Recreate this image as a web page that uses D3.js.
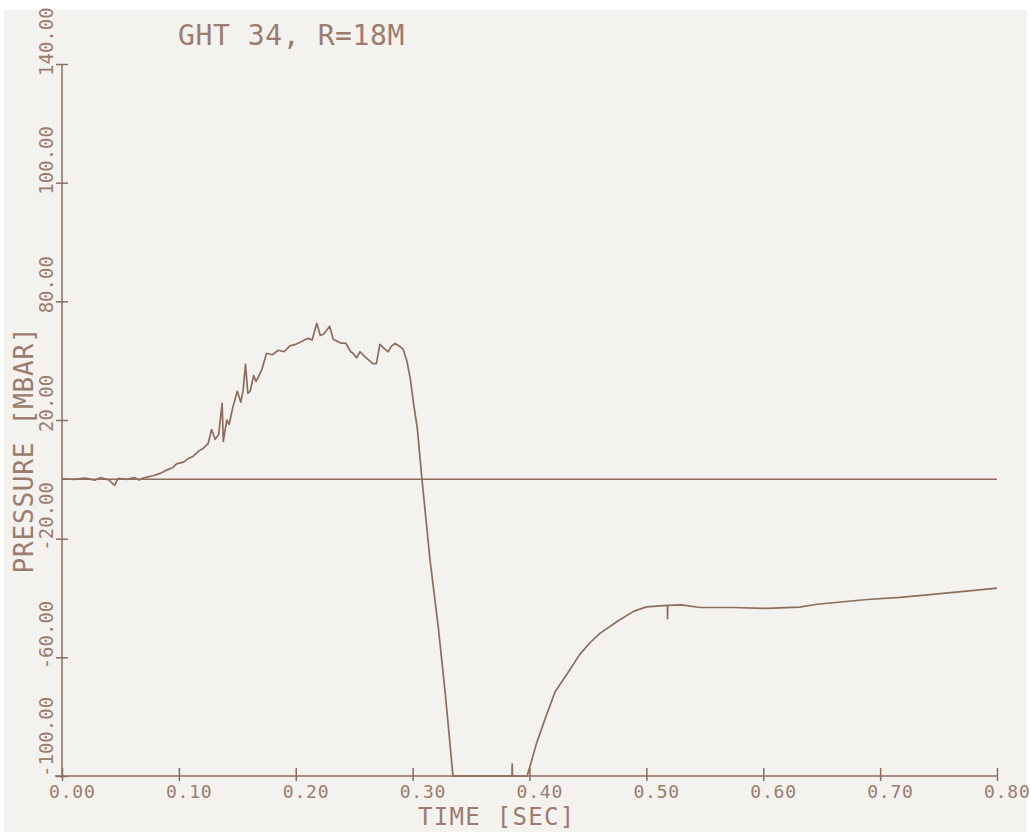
<!DOCTYPE html>
<html lang="en">
	<head>
		<meta charset="utf-8">
		<title>GHT 34, R=18M</title>
		<script type="text/javascript" src="https://cdn.jsdelivr.net/npm/d3@7"></script>
		<style type="text/css">
			body { margin: 0; background: #ffffff; }
			svg text { font-family: "DejaVu Sans Mono", "Liberation Mono", monospace; fill: #9b7c6f; }
		</style>
	</head>
	<body>
		<script type="text/javascript">
			//Width and height
			var w = 1031;
			var h = 836;

			// data
			var times = [0.000, 0.010, 0.020, 0.028, 0.033, 0.040, 0.045, 0.048, 0.055, 0.062,
						0.066, 0.070, 0.078, 0.084, 0.090, 0.095, 0.098, 0.104, 0.108, 0.112,
						0.117, 0.121, 0.125, 0.128, 0.131, 0.134, 0.137, 0.138, 0.141, 0.143,
						0.146, 0.150, 0.153, 0.155, 0.157, 0.159, 0.161, 0.164, 0.166, 0.168,
						0.171, 0.175, 0.180, 0.185, 0.190, 0.195, 0.200, 0.205, 0.210, 0.214,
						0.218, 0.221, 0.224, 0.229, 0.232, 0.238, 0.243, 0.247, 0.249, 0.252,
						0.255, 0.260, 0.266, 0.269, 0.272, 0.276, 0.279, 0.282, 0.285, 0.290,
						0.292, 0.295, 0.298, 0.301, 0.304, 0.308, 0.315, 0.322, 0.328, 0.3345,
						0.385, 0.3852, 0.3855, 0.398, 0.406, 0.414, 0.422, 0.432, 0.443, 0.452,
						0.460, 0.475, 0.489, 0.500, 0.518, 0.5181, 0.5183, 0.530, 0.546, 0.574,
						0.603, 0.631, 0.646, 0.689, 0.717, 0.745, 0.774, 0.800];
			var pressure = [0.2, 0.0, 0.4, -0.3, 0.6, -0.2, -2.0, 0.3, 0.0, 0.6,
						-0.2, 0.5, 1.2, 2.0, 3.2, 4.0, 5.2, 5.8, 7.0, 7.7,
						9.5, 10.5, 12.0, 16.8, 13.5, 15.0, 25.6, 12.8, 20.0, 18.5,
						24.0, 29.7, 26.0, 30.0, 38.8, 29.0, 29.7, 35.0, 33.0, 34.5,
						37.0, 42.5, 42.0, 43.5, 43.0, 45.0, 45.5, 46.5, 47.5, 47.0,
						52.6, 48.5, 49.0, 51.6, 47.2, 46.0, 45.8, 43.0, 42.5, 41.0,
						43.0, 41.0, 39.0, 39.0, 45.5, 44.0, 43.0, 45.0, 45.8, 44.5,
						43.8, 40.0, 34.0, 25.0, 17.2, 0.0, -27.6, -50.0, -72.5, -100,
						-100, -96, -100, -100, -89, -80, -71.5, -65.7, -59, -55,
						-52, -47.9, -44.5, -43.0, -42.5, -47, -42.5, -42.3, -43.2, -43.2,
						-43.5, -43.1, -42.1, -40.5, -39.8, -38.8, -37.7, -36.7];

			var xTicks = [0, 0.1, 0.2, 0.3, 0.4, 0.5, 0.6, 0.7, 0.8];
			var xTickLabels = ["0.00", "0.10", "0.20", "0.30", "0.40", "0.50", "0.60", "0.70", "0.80"];
			var yTicks = [-100, -60, -20, 20, 60, 100, 140];
			var yTickLabels = ["-100.00", "-60.00", "-20.00", "20.00", "80.00", "100.00", "140.00"];

			var ink = "#8e6c5e";

			var xScale = d3.scaleLinear()
							.domain([0, 0.8])
							.range([62, 997]);
			var yScale = d3.scaleLinear()
							.domain([-100, 140])
							.range([776, 64]);

			//Create SVG element
			var svg = d3.select("body")
						.append("svg")
						.attr("width", w)
						.attr("height", h);

			// paper
			svg.append("rect")
				.attr("x", 4)
				.attr("y", 10)
				.attr("width", 1023)
				.attr("height", 822)
				.attr("fill", "#f3f2ee");

			// x axis (ticks cross the line)
			var xAxis = svg.append("g")
				.attr("transform", "translate(0," + yScale(-100) + ")")
				.call(d3.axisBottom(xScale).tickValues(xTicks).tickSizeOuter(0).tickFormat(""));
			xAxis.select(".domain").attr("d", "M55,0H" + xScale(0.8)).attr("stroke", ink).attr("stroke-width", 1.5);
			xAxis.selectAll(".tick line").attr("y1", -8).attr("y2", 5).attr("stroke", ink).attr("stroke-width", 1.5);

			// y axis
			var yAxis = svg.append("g")
				.attr("transform", "translate(" + xScale(0) + ",0)")
				.call(d3.axisLeft(yScale).tickValues(yTicks).tickSizeOuter(0).tickFormat(""));
			yAxis.select(".domain").attr("d", "M0," + yScale(140) + "V" + (yScale(-100) + 2)).attr("stroke", ink).attr("stroke-width", 1.5);
			yAxis.selectAll(".tick line").attr("x1", -6).attr("x2", 6).attr("stroke", ink).attr("stroke-width", 1.5);

			// x tick labels
			svg.selectAll("text.xlab")
				.data(xTicks)
				.enter()
				.append("text")
				.attr("class", "xlab")
				.attr("x", function(d) { return xScale(d) - 13; })
				.attr("y", 798)
				.attr("font-size", "18px")
				.attr("letter-spacing", "0.8px")
				.text(function(d, i) { return xTickLabels[i]; });

			// y tick labels, rotated
			svg.selectAll("text.ylab")
				.data(yTicks)
				.enter()
				.append("text")
				.attr("class", "ylab")
				.attr("font-size", "19px")
				.attr("transform", function(d) {
						var off = d === -100 ? 1 : 12;
						return "translate(53," + (yScale(d) + off) + ") rotate(-90)";
				})
				.text(function(d, i) { return yTickLabels[i]; });

			// zero line
			svg.append("line")
				.attr("x1", xScale(0))
				.attr("x2", xScale(0.8))
				.attr("y1", yScale(0))
				.attr("y2", yScale(0))
				.attr("stroke", ink)
				.attr("stroke-width", 1.5);

			// pressure trace
			var line = d3.line()
				.x(function(d, i) { return xScale(times[i]); })
				.y(function(d) { return yScale(d); });

			svg.append("path")
				.datum(pressure)
				.attr("d", line)
				.attr("fill", "none")
				.attr("stroke", ink)
				.attr("stroke-width", 1.7)
				.attr("stroke-linejoin", "round");

			// titles
			svg.append("text")
				.attr("x", 178)
				.attr("y", 45)
				.attr("font-size", "28px")
				.attr("letter-spacing", "0.6px")
				.text("GHT 34, R=18M");

			svg.append("text")
				.attr("x", 418)
				.attr("y", 825)
				.attr("font-size", "24px")
				.attr("letter-spacing", "1.3px")
				.text("TIME [SEC]");

			svg.append("text")
				.attr("transform", "translate(33,450) rotate(-90)")
				.attr("text-anchor", "middle")
				.attr("font-size", "26px")
				.attr("letter-spacing", "0.8px")
				.text("PRESSURE [MBAR]");
		</script>
	</body>
</html>
